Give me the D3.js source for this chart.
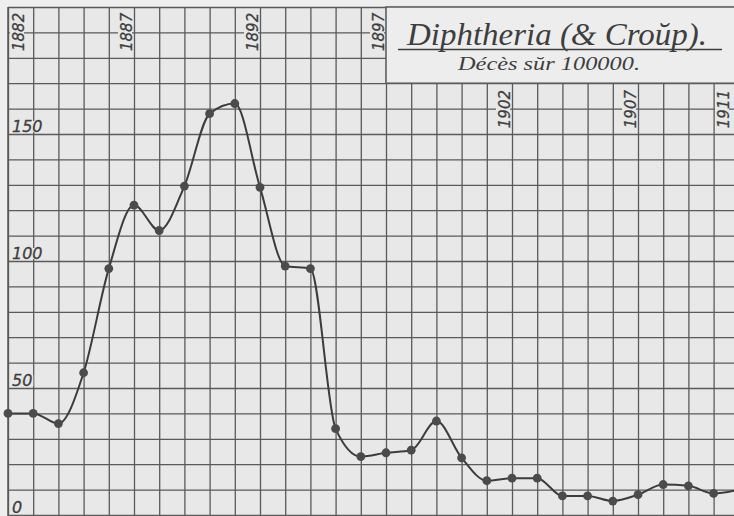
<!DOCTYPE html>
<html><head><meta charset="utf-8">
<script src="https://cdn.jsdelivr.net/npm/d3@7"></script>
<style>html,body{margin:0;padding:0;background:#eeeeee;} svg{display:block;}</style>
</head><body>
<svg id="c" width="734" height="516"></svg>
<script>
// ---- data ----
const years = [1882,1883,1884,1885,1886,1887,1888,1889,1890,1891,1892,1893,1894,1895,1896,
               1897,1898,1899,1900,1901,1902,1903,1904,1905,1906,1907,1908,1909,1910,1911];
const deaths = [40,40,36,56,97,122,112,129.5,158,162,129,98,97,34,23,
                24.5,25.5,37,22.5,13.5,14.5,14.5,7.5,7.5,5.5,8,12,11.5,8.5,10];
const yearLabelYears = [1882,1887,1892,1897,1902,1907,1911];
const yearLabels = ["1882","1887","1892","1897","1902","1907","1911"];
const valueTicks = [0,50,100,150];
const valueTickLabels = ["0","50","100","150"];
const gridValues = [0,10,20,30,40,50,60,70,80,90,100,110,120,130,140,150,160,170,180,190,200];
const titleText = "Diphtheria (& Croŭp).";
const subtitleText = "Décès sŭr 100000.";

// ---- layout ----
const W = 734, H = 516;
const svg = d3.select("#c");
const x = d3.scaleLinear().domain([1882, 1911]).range([8, 738.8]);
const y = d3.scaleLinear().domain([0, 200]).range([515, 7]);
const gridColor = "#5a5a5a";
const inkColor = "#3e3e3e";
const paper = "#e8e8e8";

svg.append("rect").attr("width", W).attr("height", H).attr("fill", "#eeeeee");
svg.append("rect").attr("x", x(1882)).attr("y", y(200))
  .attr("width", W - x(1882)).attr("height", H - y(200)).attr("fill", paper);

// vertical grid (years)
const gx = svg.append("g").attr("transform", `translate(0,${H})`)
  .call(d3.axisBottom(x).tickValues(years).tickSize(-(H - y(200))).tickFormat(""));
gx.select(".domain").remove();
gx.selectAll(".tick line").attr("stroke", gridColor).attr("stroke-width", 1.3);

// horizontal grid (values)
const gy = svg.append("g").attr("transform", `translate(${x(1882)},0)`)
  .call(d3.axisLeft(y).tickValues(gridValues).tickSize(-(W - x(1882))).tickFormat(""));
gy.select(".domain").remove();
gy.selectAll(".tick line").attr("stroke", gridColor).attr("stroke-width", 1.3);

// left border
svg.append("line").attr("x1", x(1882)).attr("x2", x(1882)).attr("y1", y(200)).attr("y2", H)
  .attr("stroke", gridColor).attr("stroke-width", 1.5);

// title box
const bx0 = x(1897), by0 = y(200), by1 = y(170);
svg.append("rect").attr("x", bx0).attr("y", by0).attr("width", W - bx0 + 5).attr("height", by1 - by0)
  .attr("fill", "#ededed").attr("stroke", gridColor).attr("stroke-width", 1.5);
svg.append("text").attr("x", 557).attr("y", 45).attr("text-anchor", "middle")
  .attr("font-family", "Liberation Serif, DejaVu Serif, serif").attr("font-style", "italic")
  .attr("font-size", 31).attr("fill", inkColor)
  .attr("textLength", 300).attr("lengthAdjust", "spacingAndGlyphs").text(titleText);
svg.append("line").attr("x1", 398).attr("x2", 722).attr("y1", 49.5).attr("y2", 49.5)
  .attr("stroke", inkColor).attr("stroke-width", 1.4);
svg.append("text").attr("x", 549).attr("y", 70).attr("text-anchor", "middle")
  .attr("font-family", "Liberation Serif, DejaVu Serif, serif").attr("font-style", "italic")
  .attr("font-size", 19).attr("fill", inkColor)
  .attr("textLength", 182).attr("lengthAdjust", "spacingAndGlyphs").text(subtitleText);

const labelBg = svg.append("g");
const labelG = svg.append("g");
// year labels (rotated)
const labelFont = "DejaVu Sans, sans-serif";
yearLabelYears.forEach((yr, i) => {
  const bx = Math.min(Math.max(x(yr) - 2, x(1882) + 16), W - 5);
  const by = x(yr) > bx0 + 1 ? by1 + 45 : by0 + 44;
  labelBg.append("rect").attr("x", bx - 14).attr("y", by - 42).attr("width", 14).attr("height", 45)
    .attr("fill", paper);
  labelG.append("text").attr("transform", `translate(${bx},${by}) rotate(-90)`)
    .attr("font-family", labelFont).attr("font-style", "italic").attr("font-size", 15)
    .attr("fill", inkColor).attr("stroke", inkColor).attr("stroke-width", 0.3)
    .text(yearLabels[i]);
});

// value labels
valueTicks.forEach((v, i) => {
  const t = labelG.append("text").attr("x", 12).attr("y", y(v) - 2)
    .attr("font-family", labelFont).attr("font-style", "italic").attr("font-size", 16)
    .attr("fill", inkColor).attr("stroke", inkColor).attr("stroke-width", 0.3)
    .text(valueTickLabels[i]);
  const bb = t.node().getBBox();
  labelBg.append("rect").attr("x", bb.x - 1).attr("y", y(v) - 13)
    .attr("width", bb.width + 2).attr("height", 11).attr("fill", paper);
});

// curve
const pts = years.map((yr, i) => ({year: yr, v: deaths[i]}));
const line = d3.line().x(d => x(d.year)).y(d => y(d.v)).curve(d3.curveMonotoneX);
svg.append("path").datum(pts).attr("d", line).attr("fill", "none")
  .attr("stroke", "#3c3c3c").attr("stroke-width", 2);
svg.append("g").selectAll("circle").data(pts).join("circle")
  .attr("cx", d => x(d.year)).attr("cy", d => y(d.v)).attr("r", 4.4).attr("fill", "#4b4b4b");
</script>
</body></html>
